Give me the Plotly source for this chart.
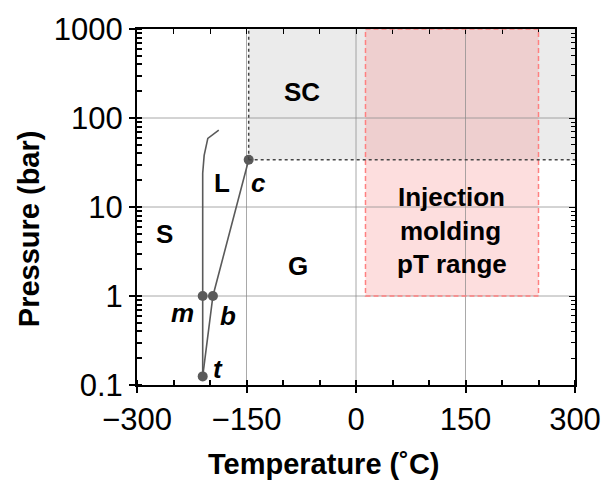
import math
import plotly.graph_objects as go

# ---- data (nitrogen phase diagram) ----
melt_T = [-210, -210, -210, -208, -203, -188]
melt_P = [0.125, 1, 24, 38, 59, 73]
boil_T = [-210, -196, -147]
boil_P = [0.125, 1, 34]
point_T = [-210, -210, -196, -147]
point_P = [0.125, 1, 1, 34]

crit_T, crit_P = -147, 34
inj_T = [13, 250]
inj_P = [1, 1000]

x_range = [-300, 300]
y_range = [0.1, 1000]
x_ticks = [-300, -150, 0, 150, 300]
x_ticktext = ["\u2212300", "\u2212150", "0", "150", "300"]
y_ticks = [0.1, 1, 10, 100, 1000]
y_ticktext = ["0.1", "1", "10", "100", "1000"]

region_labels = ["SC", "L", "S", "G"]
region_T = [-74, -184, -262, -80]
region_P = [196, 18.8, 5, 2.15]

point_labels = ["c", "m", "b", "t"]
plabel_T = [-134, -238, -175, -189]
plabel_P = [18.8, 0.65, 0.6, 0.15]

inj_lines = ["Injection", "molding", "pT range"]
inj_label_T = [131, 130, 131]
inj_label_P = [12.8, 5.4, 2.26]

x_title = "Temperature (\u02daC)"
y_title = "Pressure (bar)"

FONT = "Liberation Sans, Arial, sans-serif"
LINE = "#5a5a5a"

fig = go.Figure()

fig.add_trace(go.Scatter(x=melt_T, y=melt_P, mode="lines",
                         line=dict(color=LINE, width=1.6), showlegend=False, hoverinfo="skip"))
fig.add_trace(go.Scatter(x=boil_T, y=boil_P, mode="lines",
                         line=dict(color=LINE, width=1.6), showlegend=False, hoverinfo="skip"))
fig.add_trace(go.Scatter(x=point_T, y=point_P, mode="markers",
                         marker=dict(color=LINE, size=10), showlegend=False, hoverinfo="skip"))
# dummy trace for mirrored axes
fig.add_trace(go.Scatter(x=[x_range[0]], y=[y_range[0]], xaxis="x2", yaxis="y2", mode="markers",
                         marker=dict(opacity=0), showlegend=False, hoverinfo="skip"))

shapes = [
    # supercritical region
    dict(type="rect", xref="x", yref="y", x0=crit_T, x1=x_range[1], y0=crit_P, y1=y_range[1],
         fillcolor="#ebebeb", line=dict(width=0), layer="below"),
    # injection molding region
    dict(type="rect", xref="x", yref="y", x0=inj_T[0], x1=inj_T[1], y0=inj_P[0], y1=inj_P[1],
         fillcolor="rgba(247,123,123,0.25)", line=dict(width=0), layer="below"),
    dict(type="rect", xref="x", yref="y", x0=inj_T[0], x1=inj_T[1], y0=inj_P[0], y1=inj_P[1],
         fillcolor="rgba(0,0,0,0)", line=dict(color="#ff8080", width=1.5, dash="5px,3px"), layer="above"),
    # critical boundaries
    dict(type="line", xref="x", yref="y", x0=crit_T, x1=crit_T, y0=crit_P, y1=y_range[1],
         line=dict(color="#444444", width=1.5, dash="3px,3px"), layer="above"),
    dict(type="line", xref="x", yref="y", x0=crit_T, x1=x_range[1], y0=crit_P, y1=crit_P,
         line=dict(color="#444444", width=1.5, dash="3px,3px"), layer="above"),
]

# gridlines drawn over the filled regions (as in reference)
grid_x = [-150, 0, 150]
grid_y = [1, 10, 100]
for gx in grid_x:
    shapes.append(dict(type="line", xref="x", yref="y", x0=gx, x1=gx, y0=y_range[0], y1=y_range[1],
                       line=dict(color="rgba(140,140,140,0.75)", width=1), layer="below"))
for gy in grid_y:
    shapes.append(dict(type="line", xref="x", yref="y", x0=x_range[0], x1=x_range[1], y0=gy, y1=gy,
                       line=dict(color="rgba(140,140,140,0.75)", width=1), layer="below"))

annotations = []
for t, T, P in zip(region_labels, region_T, region_P):
    annotations.append(dict(text=f"<b>{t}</b>", x=T, y=math.log10(P), xref="x", yref="y",
                            showarrow=False, font=dict(size=26, color="black", family=FONT)))
for t, T, P in zip(point_labels, plabel_T, plabel_P):
    annotations.append(dict(text=f"<b><i>{t}</i></b>", x=T, y=math.log10(P), xref="x", yref="y",
                            showarrow=False, font=dict(size=26, color="black", family=FONT)))
for t, T, P in zip(inj_lines, inj_label_T, inj_label_P):
    annotations.append(dict(text=f"<b>{t}</b>", x=T, y=math.log10(P), xref="x", yref="y",
                            showarrow=False, font=dict(size=26, color="black", family=FONT)))
# axis titles (offset from axis centres as in reference)
annotations.append(dict(text=f"<b>{x_title}</b>", x=0.428, y=-0.2216, xref="paper", yref="paper",
                        xanchor="center", yanchor="middle", showarrow=False,
                        font=dict(size=29, color="black", family=FONT)))
annotations.append(dict(text=f"<b>{y_title}</b>", x=-0.2466, y=0.4404, xref="paper", yref="paper",
                        xanchor="center", yanchor="middle", showarrow=False, textangle=-90,
                        font=dict(size=29, color="black", family=FONT)))

fig.update_layout(
    width=615, height=488,
    margin=dict(l=137, r=40, t=24, b=103),
    paper_bgcolor="white", plot_bgcolor="white",
    font=dict(family=FONT, color="black"),
    shapes=shapes, annotations=annotations,
    xaxis=dict(range=x_range, tickvals=x_ticks, ticktext=x_ticktext,
               ticks="outside", ticklen=6, tickwidth=1.5, tickcolor="black",
               showline=True, linecolor="black", linewidth=2,
               showgrid=False, zeroline=False,
               minor=dict(dtick=50, ticks="inside", ticklen=5, tickcolor="black", showgrid=False),
               tickfont=dict(size=31, family=FONT)),
    yaxis=dict(type="log", range=[math.log10(y_range[0]), math.log10(y_range[1])],
               tickvals=y_ticks, ticktext=y_ticktext,
               ticks="outside", ticklen=6, tickwidth=1.5, tickcolor="black",
               showline=True, linecolor="black", linewidth=2,
               showgrid=False, zeroline=False,
               minor=dict(dtick="D1", ticks="inside", ticklen=5, tickcolor="black", showgrid=False),
               tickfont=dict(size=31, family=FONT)),
    xaxis2=dict(overlaying="x", side="top", range=x_range, dtick=50, tick0=0,
                ticks="inside", ticklen=5, tickcolor="black", showticklabels=False,
                showline=True, linecolor="black", linewidth=2, showgrid=False, zeroline=False),
    yaxis2=dict(overlaying="y", side="right", type="log",
                range=[math.log10(y_range[0]), math.log10(y_range[1])],
                tickvals=y_ticks, ticks="inside", ticklen=6, tickcolor="black", showticklabels=False,
                minor=dict(dtick="D1", ticks="inside", ticklen=4, tickcolor="black", showgrid=False),
                showline=True, linecolor="black", linewidth=2, showgrid=False, zeroline=False),
)

fig.write_html("out.html")
